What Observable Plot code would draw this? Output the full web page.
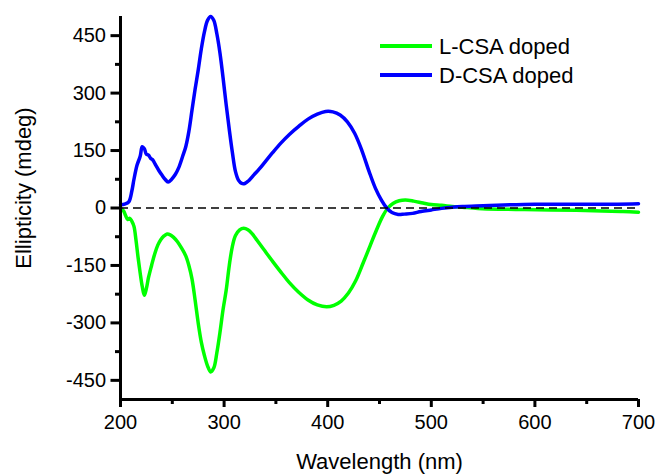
<!DOCTYPE html>
<html>
<head>
<meta charset="utf-8">
<script src="https://cdn.jsdelivr.net/npm/d3@7"></script>
<script src="https://cdn.jsdelivr.net/npm/@observablehq/plot@0.6"></script>
<style>
  html, body { margin: 0; padding: 0; background: #fff; }
  #wrap { position: relative; width: 660px; height: 475px; }
  #legend { position: absolute; left: 380px; top: 32px; font-family: "Liberation Sans", Arial, sans-serif; font-size: 22px; color: #000; }
  .row { display: flex; align-items: center; height: 29px; line-height: 29px; }
  .swatch { width: 52px; height: 4px; margin-right: 7px; position: relative; top: -1px; }
</style>
</head>
<body>
<div id="wrap"></div>
<script>
// ---- data ----
const seriesNames = ["L-CSA doped", "D-CSA doped"];
const seriesColors = ["#00ff00", "#0000ff"];

const dWavelength = [200,204,208,211,213,216,219,221,223,225,227,229,231,234,237,240,243,246,249,253,256,260,263,266,269,272,275,278,281,284,287,290,293,296,299,302,305,308,311,314,317,320,324,329,334,340,347,355,363,372,381,390,398,405,412,419,426,433,440,446,452,457,462,468,474,482,490,500,510,520,530,550,570,600,620,650,680,700];
const dEllipticity = [8,10,16,45,75,112,135,160,155,140,138,130,126,112,98,86,75,68,74,88,104,135,160,200,255,310,360,415,460,490,500,490,455,405,340,270,205,145,95,72,64,64,72,87,102,122,145,170,192,213,232,245,252,251,243,225,195,150,95,52,20,0,-12,-17,-16,-14,-9,-5,-1,2,4,6,8,10,10,10,10,11];

const lWavelength = [200,203,205,207,209,211,213,215,217,219,221,223,225,227,230,233,236,239,242,245,248,251,255,259,263,266,269,272,275,278,281,284,287,290,293,296,299,302,305,308,311,315,319,323,327,332,338,347,355,363,372,381,390,399,406,413,420,427,434,441,447,453,458,463,469,475,483,492,500,510,520,530,545,565,590,615,640,665,685,700];
const lEllipticity = [0,-8,-20,-30,-27,-35,-48,-85,-130,-170,-205,-228,-210,-182,-150,-120,-97,-82,-73,-68,-70,-76,-88,-105,-125,-150,-185,-240,-300,-350,-385,-412,-428,-418,-378,-325,-265,-215,-150,-100,-72,-57,-53,-57,-67,-85,-107,-140,-168,-195,-220,-240,-253,-258,-254,-243,-222,-190,-145,-98,-58,-22,0,12,19,21,18,13,9,7,4,2,-1,-3,-4,-5,-6,-8,-9,-11];

const xDomain = [200, 700];
const yDomain = [-500, 500];
const xMajorTicks = [200, 300, 400, 500, 600, 700];
const xMinorTicks = [250, 350, 450, 550, 650];
const yMajorTicks = [-450, -300, -150, 0, 150, 300, 450];
const yMinorTicks = [-375, -225, -75, 75, 225, 375];
const xTitle = "Wavelength (nm)";
const yTitle = "Ellipticity (mdeg)";

// ---- build tables ----
const lData = lWavelength.map((w, i) => ({wavelength: w, ellipticity: lEllipticity[i]}));
const dData = dWavelength.map((w, i) => ({wavelength: w, ellipticity: dEllipticity[i]}));

const font = "'Liberation Sans', Arial, sans-serif";

const chart = Plot.plot({
  width: 660,
  height: 475,
  marginLeft: 120,
  marginRight: 22,
  marginTop: 16,
  marginBottom: 76,
  x: {domain: xDomain},
  y: {domain: yDomain},
  style: {fontFamily: font, fontSize: "20px", color: "#000", background: "#fff", overflow: "visible"},
  marks: [
    Plot.line(lData, {x: "wavelength", y: "ellipticity", stroke: seriesColors[0], strokeWidth: 3.5, curve: "catmull-rom"}),
    Plot.line(dData, {x: "wavelength", y: "ellipticity", stroke: seriesColors[1], strokeWidth: 3.5, curve: "catmull-rom"}),
    Plot.ruleY([0], {stroke: "#000", strokeWidth: 1.5, strokeDasharray: "8,5"}),
    Plot.ruleX([xDomain[0]], {stroke: "#000", strokeWidth: 3}),
    Plot.ruleY([yDomain[0]], {stroke: "#000", strokeWidth: 3}),
    Plot.axisX({ticks: xMajorTicks, tickSize: 8, tickPadding: 7, strokeWidth: 3, label: null, tickFormat: d => String(d)}),
    Plot.axisX({ticks: xMinorTicks, tickSize: 5, strokeWidth: 3, label: null, tickFormat: () => ""}),
    Plot.axisY({ticks: yMajorTicks, tickSize: 9.5, tickPadding: 5, strokeWidth: 3, label: null, tickFormat: d => String(d)}),
    Plot.axisY({ticks: yMinorTicks, tickSize: 5, strokeWidth: 3, label: null, tickFormat: () => ""}),
    Plot.text([xTitle], {text: d => d, frameAnchor: "bottom", textAnchor: "middle", lineAnchor: "middle", dy: 62, fontSize: 22}),
    Plot.text([yTitle], {text: d => d, frameAnchor: "left", textAnchor: "middle", lineAnchor: "middle", rotate: -90, dx: -97, dy: -20, fontSize: 22})
  ]
});

const wrap = document.getElementById("wrap");
wrap.appendChild(chart);

const legend = document.createElement("div");
legend.id = "legend";
seriesNames.forEach((name, i) => {
  const row = document.createElement("div");
  row.className = "row";
  const sw = document.createElement("span");
  sw.className = "swatch";
  sw.style.background = seriesColors[i];
  const label = document.createElement("span");
  label.textContent = name;
  row.appendChild(sw);
  row.appendChild(label);
  legend.appendChild(row);
});
wrap.appendChild(legend);
</script>
</body>
</html>
